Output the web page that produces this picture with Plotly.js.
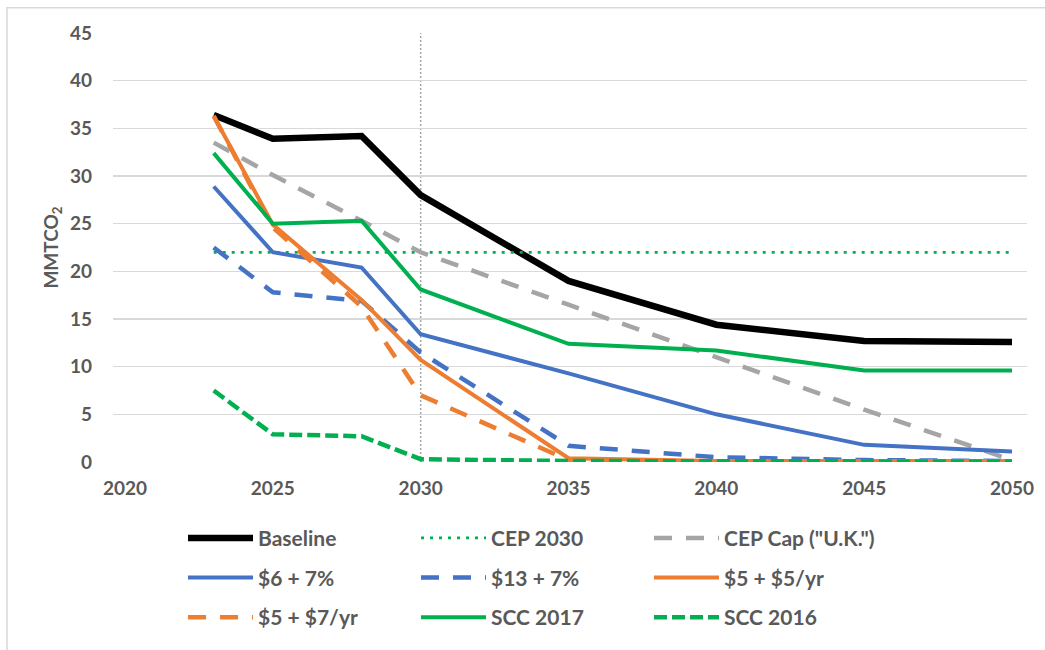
<!DOCTYPE html>
<html>
<head>
<meta charset="utf-8">
<script src="https://cdn.plot.ly/plotly-3.0.1.min.js"></script>
<style>
  html, body { margin: 0; padding: 0; background: #ffffff; overflow: hidden; }
  #chart { width: 1045px; height: 650px; }
</style>
</head>
<body>
<div id="chart"></div>
<script>
// ---- data ----
const years = [2023, 2025, 2028, 2030, 2035, 2040, 2045, 2050];
const baseline = [36.4, 33.9, 34.2, 28.0, 19.0, 14.4, 12.7, 12.6];
const cep2030 = [22, 22, 22, 22, 22, 22, 22, 22];
const cepCap = [33.5, 30.1, 25.3, 22.0, 16.5, 11.0, 5.5, 0.2];
const p6plus7 = [28.9, 22.0, 20.4, 13.4, 9.3, 5.0, 1.8, 1.1];
const p13plus7 = [22.5, 17.8, 16.9, 11.5, 1.7, 0.5, 0.2, 0.1];
const p5plus5 = [36.3, 24.9, 17.0, 10.7, 0.4, 0.1, 0.1, 0.1];
const p5plus7 = [36.3, 24.6, 16.3, 7.0, 0.2, 0.05, 0.05, 0.05];
const scc2017 = [32.4, 25.0, 25.3, 18.1, 12.4, 11.7, 9.6, 9.6];
const scc2016 = [7.5, 2.9, 2.7, 0.3, 0.1, 0.05, 0.05, 0.05];
const seriesNames = ['Baseline', 'CEP 2030', 'CEP Cap ("U.K.")', '$6 + 7%', '$13 + 7%',
                     '$5 + $5/yr', '$5 + $7/yr', 'SCC 2017', 'SCC 2016'];
const refYear = 2030;
const xTicks = [2020, 2025, 2030, 2035, 2040, 2045, 2050];
const yTicks = [0, 5, 10, 15, 20, 25, 30, 35, 40, 45];

// ---- styling ----
const FONT = 'Lato, "Open Sans", sans-serif';
const TXT = '#595959';
const C = { black: '#000000', green: '#00B050', gray: '#A5A5A5', blue: '#4472C4', orange: '#ED7D31' };

function tr(y, name, color, width, dash, legend) {
  return {
    type: 'scatter', mode: 'lines', x: years, y: y, name: name,
    line: { color: color, width: width, dash: dash, shape: 'linear' },
    legend: legend, hoverinfo: 'skip'
  };
}

const traces = [
  tr(baseline, seriesNames[0], C.black, 6.5, 'solid', 'legend'),
  tr(cep2030, seriesNames[1], C.green, 2.75, '3px,6px', 'legend'),
  tr(cepCap, seriesNames[2], C.gray, 4.5, '18px,14px', 'legend'),
  tr(p6plus7, seriesNames[3], C.blue, 4, 'solid', 'legend2'),
  tr(p13plus7, seriesNames[4], C.blue, 4.5, '18px,14px', 'legend2'),
  tr(p5plus5, seriesNames[5], C.orange, 4, 'solid', 'legend2'),
  tr(p5plus7, seriesNames[6], C.orange, 4.5, '18px,14px', 'legend3'),
  tr(scc2017, seriesNames[7], C.green, 4, 'solid', 'legend3'),
  tr(scc2016, seriesNames[8], C.green, 4.5, '13px,5px', 'legend3')
];

function legendAt(y) {
  return {
    orientation: 'h', x: 0.0766, xanchor: 'left', y: y, yanchor: 'middle',
    entrywidth: 153, entrywidthmode: 'pixels', itemwidth: 65,
    font: { family: FONT, size: 21, color: TXT, weight: 'bold' },
    bgcolor: 'rgba(0,0,0,0)', borderwidth: 0, traceorder: 'normal'
  };
}

const layout = {
  width: 1045, height: 650,
  margin: { l: 113, r: 18, t: 33, b: 184 },
  paper_bgcolor: '#ffffff', plot_bgcolor: '#ffffff',
  font: { family: FONT, color: TXT },
  showlegend: true,
  xaxis: {
    range: [2019.594, 2050.507], tickmode: 'array', tickvals: xTicks,
    showgrid: false, zeroline: false, showline: false, ticks: '',
    ticklabelstandoff: 13,
    tickfont: { family: FONT, size: 19, color: TXT, weight: 'bold' },
    fixedrange: true
  },
  yaxis: {
    range: [0, 45], tickmode: 'array', tickvals: yTicks,
    showgrid: true, gridcolor: '#D9D9D9', gridwidth: 1.5,
    zeroline: false, showline: false, ticks: '',
    ticklabelstandoff: 20,
    tickfont: { family: FONT, size: 19, color: TXT, weight: 'bold' },
    title: { text: 'MMTCO<sub>2</sub>', standoff: 6,
             font: { family: FONT, size: 19, color: TXT, weight: 'bold' } },
    fixedrange: true
  },
  legend: legendAt(-0.1778),
  legend2: legendAt(-0.2702),
  legend3: legendAt(-0.3626),
  shapes: [
    { type: 'line', xref: 'x', yref: 'paper', x0: refYear, x1: refYear, y0: 0, y1: 1,
      line: { color: '#A6A6A6', width: 1.5, dash: '2px,2px' }, layer: 'below' },
    { type: 'rect', xref: 'paper', yref: 'paper', x0: -0.116, x1: 1.03, y0: -0.46, y1: 1.0589,
      line: { color: '#D9D9D9', width: 1.5 }, fillcolor: 'rgba(0,0,0,0)', layer: 'below' }
  ]
};

Plotly.newPlot('chart', traces, layout, { staticPlot: true, displayModeBar: false });
</script>
</body>
</html>
